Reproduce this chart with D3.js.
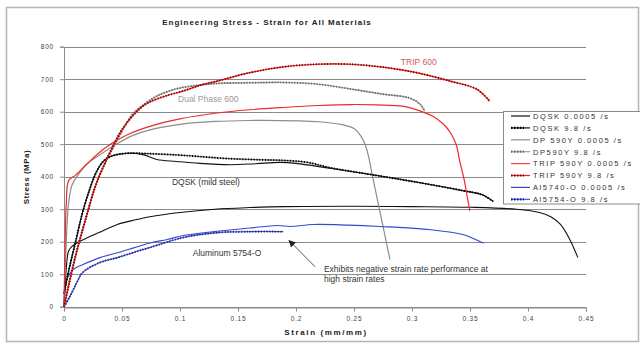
<!DOCTYPE html>
<html><head><meta charset="utf-8">
<script src="https://cdn.jsdelivr.net/npm/d3@7"></script>
<style>
body{margin:0;background:#fff}
svg{display:block}
text{font-family:"Liberation Sans",Arial,sans-serif}
</style>
</head><body>
<svg id="chart" width="640" height="345"></svg>
<script>
// ---------- data ----------
const title = "Engineering Stress - Strain for All Materials";
const xLabel = "Strain (mm/mm)";
const yLabel = "Stress (MPa)";
const yTicks = [0,100,200,300,400,500,600,700,800];
const xTicks = [0,0.05,0.1,0.15,0.2,0.25,0.3,0.35,0.4,0.45];
const xTickLabels = ["0","0.05","0.1","0.15","0.2","0.25","0.3","0.35","0.4","0.45"];
const seriesNames = ["DQSK 0.0005 /s","DQSK 9.8 /s","DP 590Y 0.0005 /s","DP590Y 9.8 /s",
  "TRIP 590Y 0.0005 /s","TRIP 590Y 9.8 /s","Al5740-O 0.0005 /s","Al5754-O 9.8 /s"];

// [strain, stress]
const dqsk0005 = [[0,0],[0.002,120],[0.004,172],[0.007,186],[0.012,198],[0.02,212],[0.03,228],[0.046,253],
  [0.06,266],[0.074,277],[0.1,290],[0.13,300],[0.16,305],[0.19,308],[0.25,309],[0.3,308],[0.35,306],
  [0.39,300],[0.41,290],[0.42,276],[0.428,253],[0.436,207],[0.443,151]];
const dqsk98Line = [[0,40],[0.004,110],[0.01,200],[0.016,290],[0.022,360],[0.028,415],[0.034,448],[0.04,462],
  [0.054,472],[0.068,468],[0.08,453],[0.097,447],[0.117,441],[0.143,437],[0.165,440],[0.186,444],[0.2,441],
  [0.229,426],[0.264,407],[0.301,385],[0.344,357],[0.36,345],[0.37,324]];
const dqsk98Dots = [[0,40],[0.004,110],[0.01,200],[0.016,290],[0.022,360],[0.028,415],[0.034,448],[0.04,462],
  [0.054,472],[0.072,471],[0.097,467],[0.117,462],[0.14,456],[0.17,452],[0.19,450],[0.21,444],
  [0.229,428],[0.264,407],[0.301,385],[0.344,357],[0.36,345],[0.37,324]];
const dp0005 = [[0,0],[0.002,200],[0.004,320],[0.007,375],[0.012,405],[0.02,440],[0.03,465],[0.045,500],
  [0.06,528],[0.075,545],[0.1,561],[0.13,570],[0.16,573],[0.2,572],[0.22,569],[0.24,560],[0.25,548],
  [0.256,525],[0.26,495],[0.263,455],[0.266,400],[0.272,299],[0.281,145]];
const dp98 = [[0,0],[0.006,100],[0.013,200],[0.021,300],[0.028,380],[0.034,430],[0.041,480],[0.05,540],
  [0.059,592],[0.07,625],[0.08,648],[0.09,663],[0.103,675],[0.132,687],[0.16,689],[0.189,690],
  [0.218,685],[0.247,670],[0.275,654],[0.298,642],[0.307,623],[0.311,601]];
const trip0005 = [[0,0],[0.001,200],[0.002,320],[0.004,388],[0.01,405],[0.02,440],[0.03,473],[0.04,500],
  [0.055,530],[0.074,555],[0.1,578],[0.132,596],[0.16,606],[0.189,613],[0.22,619],[0.247,622],
  [0.27,621],[0.292,617],[0.305,605],[0.318,586],[0.327,562],[0.333,536],[0.338,500],[0.341,450],
  [0.345,390],[0.348,330],[0.35,295]];
const trip98 = [[0,0],[0.005,80],[0.011,170],[0.018,260],[0.026,360],[0.034,432],[0.041,485],[0.05,545],
  [0.0655,610],[0.074,630],[0.089,650],[0.103,664],[0.117,681],[0.132,694],[0.16,720],[0.189,738],
  [0.218,746],[0.247,746],[0.275,737],[0.304,720],[0.333,694],[0.356,669],[0.367,632]];
const al0005 = [[0,0],[0.003,89],[0.008,115],[0.016,129],[0.031,151],[0.046,166],[0.06,181],[0.074,196],
  [0.089,207],[0.103,219],[0.132,232],[0.16,242],[0.184,250],[0.195,247],[0.215,253],[0.245,251],
  [0.272,247],[0.316,237],[0.344,222],[0.359,200],[0.362,196]];
const al98 = [[0,0],[0.005,31],[0.011,74],[0.016,105],[0.031,136],[0.046,151],[0.06,167],[0.074,182],
  [0.103,213],[0.132,228],[0.16,231],[0.189,231]];

const annotations = [
  {text:"TRIP 600", s:0.2904, v:745, color:"#d45a5a", size:8.5},
  {text:"Dual Phase 600", s:0.0983, v:630, color:"#9a9a9a", size:8.5},
  {text:"DQSK (mild steel)", s:0.093, v:376, color:"#333", size:8.5},
  {text:"Aluminum 5754-O", s:0.111, v:157, color:"#333", size:8.5},
  {text:"Exhibits negative strain rate performance at", s:0.2241, v:107, color:"#333", size:8.5},
  {text:"high strain rates", s:0.2241, v:76, color:"#333", size:8.5}
];

// ---------- drawing ----------
const svg = d3.select("#chart");
const x = d3.scaleLinear().domain([0,0.45]).range([64,586]);
const y = d3.scaleLinear().domain([0,800]).range([306.7,46.7]);

svg.append("rect").attr("x",6.5).attr("y",7.5).attr("width",632).attr("height",334)
  .attr("fill","#fff").attr("stroke","#b4b4b4").attr("stroke-width",1.5);

svg.append("text").attr("x",267).attr("y",24.5).attr("text-anchor","middle")
  .attr("font-size",8).attr("font-weight","bold").attr("letter-spacing",1).attr("fill","#222").text(title);

// gridlines
svg.append("g").selectAll("line").data(yTicks).join("line")
  .attr("x1",x(0)).attr("x2",x(0.45)).attr("y1",d=>Math.round(y(d))+0.5).attr("y2",d=>Math.round(y(d))+0.5)
  .attr("stroke","#8a8a8a").attr("stroke-width",1);

// y axis
const yAxis = d3.axisLeft(y).tickValues(yTicks).tickSize(4).tickPadding(6).tickFormat(d3.format("d"));
const gy = svg.append("g").attr("transform",`translate(${x(0)},0)`).call(yAxis);
gy.select(".domain").attr("stroke","#8a8a8a");
gy.selectAll(".tick line").attr("stroke","#8a8a8a");
gy.selectAll(".tick text").attr("font-size",6.5).attr("letter-spacing",0.8).attr("fill","#444")
  .attr("font-family","Liberation Sans, Arial, sans-serif");

// x axis
const xAxis = d3.axisBottom(x).tickValues(xTicks).tickSize(4).tickPadding(5)
  .tickFormat((d,i)=>xTickLabels[i]);
const gx = svg.append("g").attr("transform",`translate(0,${Math.round(y(0))+0.5})`).call(xAxis);
gx.select(".domain").attr("stroke","#8a8a8a");
gx.selectAll(".tick line").attr("stroke","#8a8a8a");
gx.selectAll(".tick text").attr("font-size",6.5).attr("letter-spacing",0.8).attr("fill","#444")
  .attr("font-family","Liberation Sans, Arial, sans-serif");

svg.append("text").attr("x",326).attr("y",334.5).attr("text-anchor","middle")
  .attr("font-size",8).attr("font-weight","bold").attr("letter-spacing",1.6).attr("fill","#222").text(xLabel);
svg.append("text").attr("transform","translate(29,177) rotate(-90)").attr("text-anchor","middle")
  .attr("font-size",8).attr("font-weight","bold").attr("letter-spacing",0.5).attr("fill","#222").text(yLabel);

// curves
const line = d3.line().x(d=>x(d[0])).y(d=>y(d[1])).curve(d3.curveCatmullRom.alpha(0.5));
const styles = [
  {data:dqsk0005, color:"#111", w:1.1},
  {data:dp0005, color:"#8c8c8c", w:1.2},
  {data:al0005, color:"#3848d0", w:1.1},
  {data:al98, color:"#4050c8", w:1.1, dots:"#1c2890"},
  {data:dp98, color:"#9a9a9a", w:1.1, dots:"#6a6a6a"},
  {data:dqsk98Line, color:"#111", w:1.1},
  {data:dqsk98Dots, color:"#222", w:0.8, dots:"#000"},
  {data:trip0005, color:"#ee2a2a", w:1.2},
  {data:trip98, color:"#e82020", w:1.2, dots:"#8a0000"}
];
const gc = svg.append("g");
styles.forEach(s=>{
  gc.append("path").attr("d",line(s.data)).attr("fill","none").attr("stroke",s.color).attr("stroke-width",s.w);
  if(s.dots) gc.append("path").attr("d",line(s.data)).attr("fill","none").attr("stroke",s.dots)
    .attr("stroke-width",1.9).attr("stroke-dasharray","1.2 1.6");
});

// annotations
svg.append("g").selectAll("text").data(annotations).join("text")
  .attr("x",d=>x(d.s)).attr("y",d=>y(d.v)).attr("font-size",d=>d.size).attr("fill",d=>d.color).text(d=>d.text);

// arrow
svg.append("defs").append("marker").attr("id","ah").attr("viewBox","0 0 10 10").attr("refX",9).attr("refY",5)
  .attr("markerWidth",7).attr("markerHeight",7).attr("orient","auto")
  .append("path").attr("d","M0,0L10,5L0,10z").attr("fill","#222");
svg.append("line").attr("x1",x(0.2164)).attr("y1",y(123)).attr("x2",x(0.194)).attr("y2",y(204))
  .attr("stroke","#555").attr("stroke-width",1).attr("marker-end","url(#ah)");

// legend
const lg = svg.append("g");
lg.append("rect").attr("x",503.5).attr("y",111.5).attr("width",150).attr("height",92.5)
  .attr("fill","#fff").attr("stroke","#8a8a8a");
const legendStyles = [
  {c:"#111"},{c:"#111",d:"#000"},{c:"#8c8c8c"},{c:"#9a9a9a",d:"#6a6a6a"},
  {c:"#ee4444"},{c:"#e82020",d:"#8a0000"},{c:"#3848d0"},{c:"#4050c8",d:"#1c2890"}
];
seriesNames.forEach((n,i)=>{
  const yy = 116 + i*11.9;
  const st = legendStyles[i];
  lg.append("line").attr("x1",511).attr("x2",530).attr("y1",yy).attr("y2",yy).attr("stroke",st.c).attr("stroke-width",1.2);
  if(st.d) lg.append("line").attr("x1",511).attr("x2",524).attr("y1",yy).attr("y2",yy)
    .attr("stroke",st.d).attr("stroke-width",2.2).attr("stroke-dasharray","1.5 1.5");
  lg.append("text").attr("x",533).attr("y",yy+2.8).attr("font-size",7.5).attr("letter-spacing",1.6)
    .attr("fill","#333").text(n);
});
</script>
</body></html>
